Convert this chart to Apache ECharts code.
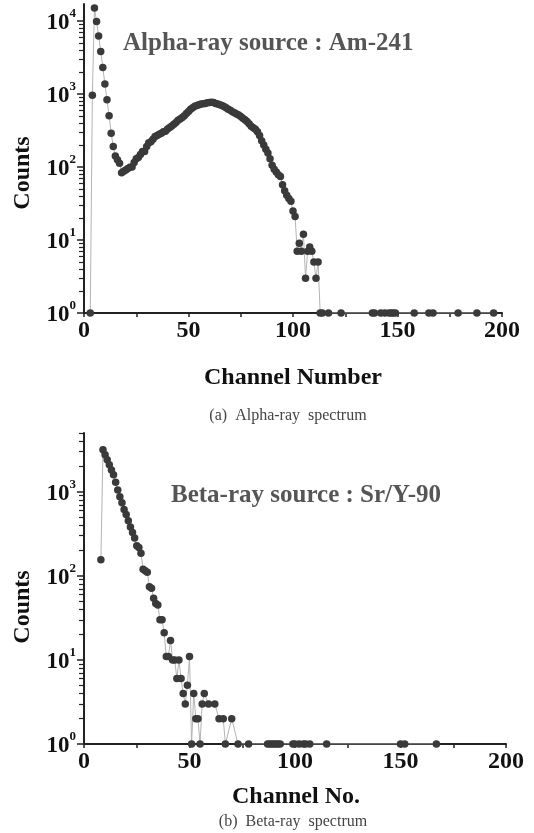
<!DOCTYPE html>
<html><head><meta charset="utf-8">
<script src="https://cdn.jsdelivr.net/npm/echarts@6/dist/echarts.min.js"></script>
<style>html,body{margin:0;padding:0;background:#fff}#c{width:534px;height:833px}</style>
</head><body><div id="c"></div>
<script>
// ---- (a) Alpha-ray spectrum, Am-241 ----
const alphaChannels = [
  3,4,5,6,7,8,9,10,11,12,13,14,15,16,17,18,19,20,21,22,23,24,25,26,27,28,29,30,
  31,32,33,34,35,36,37,38,39,40,41,42,43,44,45,46,47,48,49,50,51,52,53,54,55,56,57,58,59,60,
  61,62,63,64,65,66,67,68,69,70,71,72,73,74,75,76,77,78,79,80,81,82,83,84,85,86,87,88,89,90,
  91,92,93,94,95,96,97,98,99,100,101,102,103,104,105,106,107,108,109,110,111,112,113,
  114,117,123,138,139,142,144,146,147,148,149,158,165,167,179,188,196
];
const alphaCounts = [
  1,960,15000,9800,6200,3800,2300,1360,830,500,290,190,141,125,112,83,87,91,95,99,100,115,129,135,148,162,162,190,
  214,221,240,261,269,279,288,302,309,331,347,363,385,407,437,452,473,501,537,575,617,646,676,692,708,724,733,741,755,762,
  769,759,741,724,708,692,670,646,617,596,569,550,531,513,490,462,442,417,389,359,343,327,302,269,229,200,174,155,129,105,
  93,85,78,74,57,47,41,37,34,25,21,7,9,7,12,3,7,8,7,5,3,5,1,
  1,1,1,1,1,1,1,1,1,1,1,1,1,1,1,1,1
];
// ---- (b) Beta-ray spectrum, Sr/Y-90 ----
const betaChannels = [
  8,9,10,11,12,13,14,15,16,17,18,19,20,21,22,23,24,25,26,27,28,29,30,
  31,32,33,34,35,36,37,38,39,40,41,42,43,44,45,46,47,48,49,50,51,52,53,54,55,56,57,59,62,64,66,67,70,73,78,
  87,88,89,90,91,92,93,99,100,102,104,105,107,115,150,152,167
];
const betaCounts = [
  155,3160,2750,2400,2090,1820,1590,1300,1050,870,740,615,535,452,380,327,282,228,218,186,120,115,110,
  74,71,54,47,45,30,30,21,11,11,17,10,10,6,10,6,4,3,5,11,1,4,2,2,1,3,4,3,3,2,2,1,2,1,1,
  1,1,1,1,1,1,1,1,1,1,1,1,1,1,1,1,1
];
const xMin = 0, xMax = 200, xTickStep = 25, xLabelStep = 50;
const alphaYMax = 17000, betaYMax = 5000;
const majorYTicks = [1, 10, 100, 1000, 10000];
const minorMultipliers = [2,3,4,5,6,7,8,9];

const SERIF = '"Liberation Serif", "Times New Roman", serif';
function pairs(xs, ys){ return xs.map((x,i)=>[x, ys[i]]); }
function minorTicks(max){
  const out = [];
  majorYTicks.forEach(p => minorMultipliers.forEach(m => { if (p*m <= max) out.push(p*m); }));
  return out;
}
function xAxisCfg(gi){
  return {
    gridIndex: gi, type: 'value', min: xMin, max: xMax, interval: xTickStep,
    axisLine: {show: true, onZero: false, lineStyle: {color: '#222', width: 2}},
    axisTick: {show: true, length: 4, inside: false, lineStyle: {color: '#222', width: 1.5}},
    axisLabel: {
      formatter: v => (v % xLabelStep === 0 ? String(v) : ''),
      fontFamily: SERIF, fontWeight: 'bold', fontSize: 24, color: '#111', margin: 6
    },
    splitLine: {show: false}
  };
}
function yMajorCfg(gi, max){
  return {
    gridIndex: gi, type: 'log', logBase: 10, min: 1, max: max, position: 'left',
    axisLine: {show: true, lineStyle: {color: '#222', width: 2}},
    axisTick: {show: true, length: 7, customValues: majorYTicks.filter(v => v <= max), lineStyle: {color: '#222', width: 1.5}},
    axisLabel: {
      customValues: majorYTicks.filter(v => v <= max),
      formatter: v => '{b|10}{s|' + Math.round(Math.log10(v)) + '}',
      margin: 8,
      rich: {
        b: {fontFamily: SERIF, fontWeight: 'bold', fontSize: 23, color: '#111', lineHeight: 28, verticalAlign: 'bottom'},
        s: {fontFamily: SERIF, fontWeight: 'bold', fontSize: 13, color: '#111', lineHeight: 14, verticalAlign: 'top'}
      }
    },
    splitLine: {show: false}
  };
}
function yMinorCfg(gi, max){
  return {
    gridIndex: gi, type: 'log', logBase: 10, min: 1, max: max, position: 'left', offset: 0,
    axisLine: {show: false},
    axisTick: {show: true, length: 5, inside: false, customValues: minorTicks(max), lineStyle: {color: '#222', width: 1.2}},
    axisLabel: {show: false},
    splitLine: {show: false}
  };
}
function seriesCfg(xi, yi, data){
  return {
    type: 'line', xAxisIndex: xi, yAxisIndex: yi, data: data,
    symbol: 'circle', symbolSize: 7.5, showSymbol: true,
    itemStyle: {color: '#3a3a3a'},
    lineStyle: {color: '#b4b4b4', width: 1},
    clip: true, animation: false, z: 2
  };
}
const txt = (x, y, text, font, fill, align, rot) => ({
  type: 'text', x: x, y: y, rotation: rot || 0,
  style: {text: text, font: font, fill: fill, align: align || 'center', verticalAlign: 'middle'}
});

const chart = echarts.init(document.getElementById('c'), null, {renderer: 'canvas'});
chart.setOption({
  backgroundColor: '#fff',
  animation: false,
  grid: [
    {left: 84, top: 4, width: 418, height: 309},
    {left: 84, top: 433, width: 422, height: 311}
  ],
  xAxis: [xAxisCfg(0), xAxisCfg(1)],
  yAxis: [yMajorCfg(0, alphaYMax), yMinorCfg(0, alphaYMax), yMajorCfg(1, betaYMax), yMinorCfg(1, betaYMax)],
  series: [
    seriesCfg(0, 0, pairs(alphaChannels, alphaCounts)),
    seriesCfg(1, 2, pairs(betaChannels, betaCounts))
  ],
  graphic: [
    txt(123, 44, 'Alpha-ray source : Am-241', 'bold 25px ' + SERIF, '#555', 'left'),
    txt(23, 173, 'Counts', 'bold 24px ' + SERIF, '#111', 'center', Math.PI/2),
    txt(293, 378, 'Channel Number', 'bold 24px ' + SERIF, '#111', 'center'),
    txt(288, 416, '(a)  Alpha-ray  spectrum', '16px ' + SERIF, '#444', 'center'),
    txt(171, 496, 'Beta-ray source : Sr/Y-90', 'bold 25px ' + SERIF, '#555', 'left'),
    txt(23, 607, 'Counts', 'bold 24px ' + SERIF, '#111', 'center', Math.PI/2),
    txt(296, 797, 'Channel No.', 'bold 24px ' + SERIF, '#111', 'center'),
    txt(293, 822, '(b)  Beta-ray  spectrum', '16px ' + SERIF, '#444', 'center')
  ]
});
</script>
</body></html>
